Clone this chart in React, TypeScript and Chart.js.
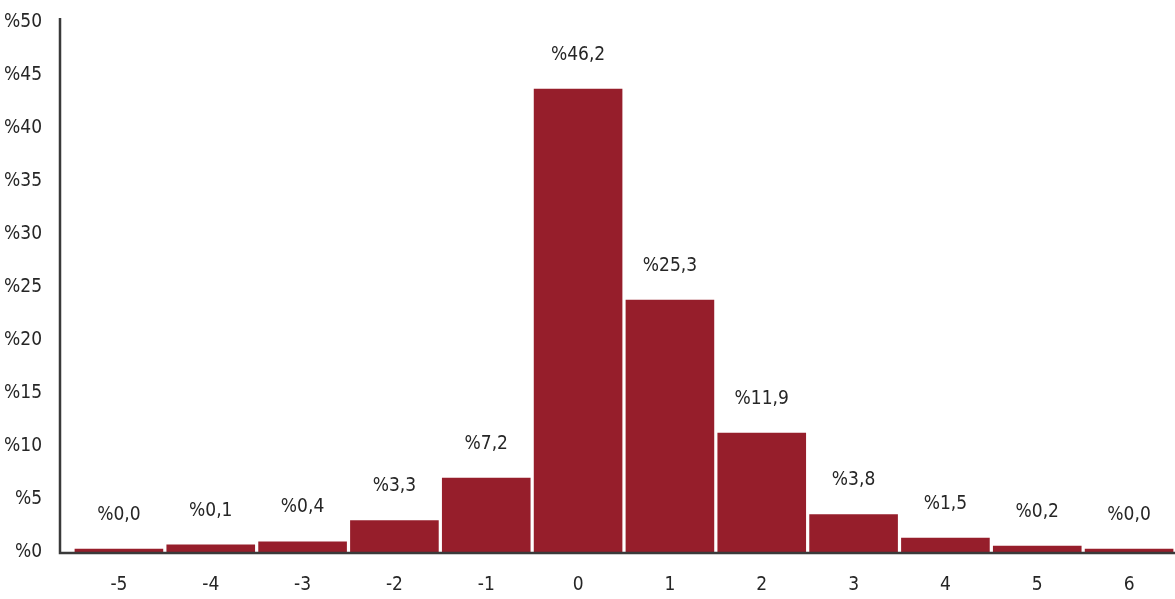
import React, { useEffect, useRef } from "react";
import { Chart, registerables } from "chart.js";

Chart.register(...registerables);

const categories = ["-5", "-4", "-3", "-2", "-1", "0", "1", "2", "3", "4", "5", "6"];
const barValues = [0.3, 0.7, 1.0, 3.0, 7.0, 43.7, 23.8, 11.25, 3.55, 1.35, 0.6, 0.3];
const valueLabels = ["%0,0", "%0,1", "%0,4", "%3,3", "%7,2", "%46,2", "%25,3", "%11,9", "%3,8", "%1,5", "%0,2", "%0,0"];
const yTicks = [0, 5, 10, 15, 20, 25, 30, 35, 40, 45, 50];

const FONT = "'Liberation Sans Narrow', 'DejaVu Sans Condensed', sans-serif";
const FONT_SIZE = 19;
const BAR_COLOR = "#961e2b";
const TEXT_COLOR = "#262626";
const AXIS_COLOR = "#3a3a3a";

const axesPlugin = {
  id: "customAxes",
  afterDatasetsDraw(chart: any) {
    const { ctx, chartArea } = chart;
    const yAxisX = chartArea.left - 13;
    ctx.save();
    ctx.strokeStyle = AXIS_COLOR;
    ctx.lineWidth = 2.5;
    ctx.beginPath();
    ctx.moveTo(yAxisX, chartArea.top - 4);
    ctx.lineTo(yAxisX, chartArea.bottom + 1);
    ctx.lineTo(chartArea.right, chartArea.bottom + 1);
    ctx.stroke();
    ctx.restore();
  },
};

const labelPlugin = {
  id: "valueLabels",
  afterDatasetsDraw(chart: any) {
    const { ctx } = chart;
    const meta = chart.getDatasetMeta(0);
    ctx.save();
    ctx.fillStyle = TEXT_COLOR;
    ctx.font = `${FONT_SIZE}px ${FONT}`;
    ctx.textAlign = "center";
    ctx.textBaseline = "middle";
    meta.data.forEach((bar: any, i: number) => {
      ctx.fillText(valueLabels[i], bar.x, bar.y - 34);
    });
    ctx.restore();
  },
};

export default function App() {
  const canvasRef = useRef<HTMLCanvasElement | null>(null);

  useEffect(() => {
    if (!canvasRef.current) return;
    const chart = new Chart(canvasRef.current, {
      type: "bar",
      data: {
        labels: categories,
        datasets: [
          {
            data: barValues,
            backgroundColor: BAR_COLOR,
            borderWidth: 0,
            barPercentage: 0.965,
            categoryPercentage: 1,
          },
        ],
      },
      options: {
        animation: false,
        responsive: false,
        maintainAspectRatio: false,
        layout: { padding: { top: 22, right: 0, left: 0, bottom: 0 } },
        plugins: {
          legend: { display: false },
          tooltip: { enabled: false },
        },
        scales: {
          x: {
            grid: { display: false, drawTicks: false },
            border: { display: false },
            ticks: {
              color: TEXT_COLOR,
              font: { family: FONT, size: FONT_SIZE },
              padding: 22,
              maxRotation: 0,
              autoSkip: false,
            },
            afterFit(scale: any) {
              scale.height = 47;
              scale.paddingLeft = 0;
              scale.paddingRight = 0;
            },
          },
          y: {
            min: 0,
            max: 50,
            grid: { display: false, drawTicks: false },
            border: { display: false },
            afterBuildTicks(scale: any) {
              scale.ticks = yTicks.map((v) => ({ value: v }));
            },
            ticks: {
              color: TEXT_COLOR,
              font: { family: FONT, size: FONT_SIZE },
              padding: 31,
              callback: (v: any) => "%" + v,
            },
            afterFit(scale: any) {
              scale.width = 73;
              scale.paddingTop = 0;
              scale.paddingBottom = 0;
            },
          },
        },
      },
      plugins: [axesPlugin, labelPlugin],
    });
    return () => chart.destroy();
  }, []);

  return (
    <div style={{ position: "fixed", left: 0, top: 0, width: 1175, height: 599, background: "#fff" }}>
      <canvas ref={canvasRef} width={1175} height={599} style={{ display: "block" }} />
    </div>
  );
}
